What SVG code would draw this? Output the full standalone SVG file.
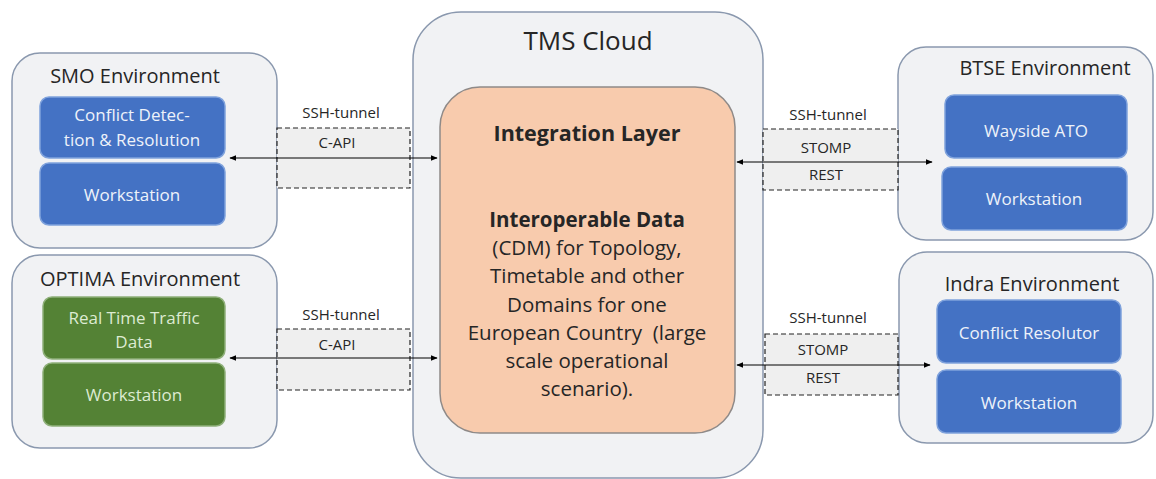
<svg xmlns="http://www.w3.org/2000/svg" width="1156" height="479" viewBox="0 0 1156 479">
<defs>
<marker id="ah" viewBox="0 0 10 10" refX="9" refY="5" markerWidth="7" markerHeight="7" orient="auto-start-reverse" markerUnits="userSpaceOnUse">
<path d="M0,1 L10,5 L0,9 z" fill="#000"/>
</marker>
<style>
.env{fill:#F1F2F4;stroke:#8A98AE;stroke-width:1.5}
.blue{fill:#4472C4;stroke:#7FA2DC;stroke-width:1.5}
.green{fill:#548235;stroke:#8FB07A;stroke-width:1.5}
.t{font-family:"Open Sans",Lato,"Liberation Sans",sans-serif;text-anchor:middle}
.title{font-size:20px;fill:#262626}
.wt{font-size:17px;fill:#EEF2FA}
.gt{font-size:17px;fill:#DDEBD2}
.lbl{font-size:15px;fill:#262626}
.tun{fill:#EFEFEF;stroke:#222;stroke-width:1.2;stroke-dasharray:5,3}
.conn{stroke:#000;stroke-width:1;fill:none;marker-start:url(#ah);marker-end:url(#ah)}
.body{font-size:20.5px;fill:#262626}
</style>
</defs>
<rect width="1156" height="479" fill="#fff"/>

<g id="tms-cloud">
<rect x="413" y="12" width="350" height="466" rx="48" class="env"/>
<text x="588" y="50" class="t" style="font-size:26px;fill:#262626">TMS Cloud</text>
</g>

<g id="integration-layer">
<rect x="440" y="87" width="295" height="346" rx="40" fill="#F8CBAD" stroke="#8F8A88" stroke-width="1.5"/>
<text x="587" y="141" class="t" style="font-size:21.5px;font-weight:bold;fill:#262626">Integration Layer</text>
<text x="587" y="227" class="t body" style="font-weight:bold">Interoperable Data</text>
<text x="587" y="255" class="t body">(CDM) for Topology,</text>
<text x="587" y="283" class="t body">Timetable and other</text>
<text x="587" y="312" class="t body">Domains for one</text>
<text x="587" y="340" class="t body" xml:space="preserve">European Country  (large</text>
<text x="587" y="368" class="t body">scale operational</text>
<text x="587" y="396" class="t body">scenario).</text>
</g>

<g id="smo-environment">
<rect x="12" y="53" width="265" height="195" rx="28" class="env"/>
<text x="135" y="83" class="t title">SMO Environment</text>
<rect x="40" y="97" width="185" height="61" rx="9" class="blue"/>
<text x="132" y="121" class="t wt">Conflict Detec-</text>
<text x="132" y="146" class="t wt">tion &amp; Resolution</text>
<rect x="40" y="163" width="185" height="62" rx="9" class="blue"/>
<text x="132" y="201" class="t wt">Workstation</text>
</g>

<g id="optima-environment">
<rect x="12" y="255" width="265" height="193" rx="28" class="env"/>
<text x="140" y="286" class="t title">OPTIMA Environment</text>
<rect x="43" y="297" width="182" height="62" rx="9" class="green"/>
<text x="134" y="324" class="t gt">Real Time Traffic</text>
<text x="134" y="348" class="t gt">Data</text>
<rect x="43" y="363" width="182" height="63" rx="9" class="green"/>
<text x="134" y="401" class="t gt">Workstation</text>
</g>

<g id="btse-environment">
<rect x="898" y="47" width="255" height="193" rx="28" class="env"/>
<text x="1045" y="75" class="t title">BTSE Environment</text>
<rect x="945" y="95" width="182" height="63" rx="9" class="blue"/>
<text x="1036" y="137" class="t wt">Wayside ATO</text>
<rect x="942" y="167" width="185" height="63" rx="9" class="blue"/>
<text x="1034" y="205" class="t wt">Workstation</text>
</g>

<g id="indra-environment">
<rect x="899" y="252" width="254" height="191" rx="28" class="env"/>
<text x="1032" y="291" class="t title">Indra Environment</text>
<rect x="937" y="300" width="184" height="63" rx="9" class="blue"/>
<text x="1029" y="339" class="t wt">Conflict Resolutor</text>
<rect x="937" y="370" width="184" height="63" rx="9" class="blue"/>
<text x="1029" y="409" class="t wt">Workstation</text>
</g>

<g id="connectors">
<rect x="277" y="128" width="133" height="60" class="tun"/>
<text x="341" y="118" class="t lbl">SSH-tunnel</text>
<text x="337" y="148" class="t lbl">C-API</text>
<line x1="230" y1="158" x2="437" y2="158" class="conn"/>

<rect x="277" y="329" width="133" height="61" class="tun"/>
<text x="341" y="320" class="t lbl">SSH-tunnel</text>
<text x="337" y="350" class="t lbl">C-API</text>
<line x1="230" y1="358" x2="437" y2="358" class="conn"/>

<rect x="763" y="129" width="135" height="61" class="tun"/>
<text x="828" y="120" class="t lbl">SSH-tunnel</text>
<text x="826" y="153" class="t lbl">STOMP</text>
<text x="826" y="180" class="t lbl">REST</text>
<line x1="737" y1="162" x2="932" y2="162" class="conn"/>

<rect x="765" y="334" width="133" height="61" class="tun"/>
<text x="828" y="323" class="t lbl">SSH-tunnel</text>
<text x="823" y="355" class="t lbl">STOMP</text>
<text x="823" y="383" class="t lbl">REST</text>
<line x1="737" y1="365" x2="930" y2="365" class="conn"/>
</g>
</svg>
